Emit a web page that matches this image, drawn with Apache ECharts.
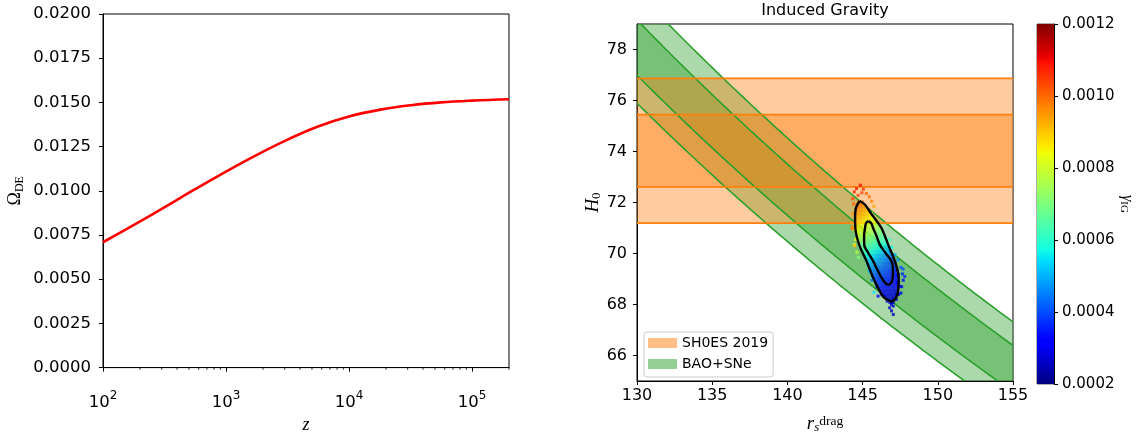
<!DOCTYPE html>
<html>
<head>
<meta charset="utf-8">
<script src="https://cdn.jsdelivr.net/npm/echarts@6/dist/echarts.min.js"></script>
<style>
html, body { margin: 0; padding: 0; background: #fff; }
#chart { width: 1142px; height: 439px; }
</style>
</head>
<body>
<div id="chart"></div>
<script>
// ---------- Left panel: Omega_DE(z) ----------
const zValues = [100, 180, 320, 560, 1000, 1800, 3200, 5600, 10000, 18000, 32000, 56000, 100000, 200000];
const omegaDE = [0.00709, 0.00809, 0.00909, 0.01009, 0.01109, 0.01205, 0.01291, 0.01364,
  0.01420, 0.01459, 0.01484, 0.01500, 0.01510, 0.01518];
const zMinorTicks = [200, 300, 400, 500, 600, 700, 800, 900,
  2000, 3000, 4000, 5000, 6000, 7000, 8000, 9000,
  20000, 30000, 40000, 50000, 60000, 70000, 80000, 90000, 200000];

// ---------- Right panel: r_s^drag vs H0 ----------
const shoesH0 = [71.19, 72.61, 75.45, 76.87];          // 2σ low, 1σ low, 1σ high, 2σ high
const baoProduct = [9866, 10009, 10291, 10434];        // H0 * r_s bounds (same order)
const h0Ticks = [66, 68, 70, 72, 74, 76, 78];

// MCMC samples: [r_s, H0, gamma_IG]
const chainCore = [
  [144.75, 72.00, 0.00101], [144.95, 72.00, 0.00099],
  [144.65, 71.85, 0.00099], [144.90, 71.85, 0.00097], [145.10, 71.85, 0.00095],
  [144.60, 71.70, 0.00097], [144.85, 71.70, 0.00095], [145.10, 71.70, 0.00093], [145.30, 71.70, 0.00091],
  [144.60, 71.55, 0.00095], [144.85, 71.55, 0.00093], [145.10, 71.55, 0.00091], [145.35, 71.55, 0.00089], [145.55, 71.55, 0.00087],
  [144.55, 71.40, 0.00093], [144.80, 71.40, 0.00091], [145.05, 71.40, 0.00089], [145.30, 71.40, 0.00087], [145.55, 71.40, 0.00085], [145.72, 71.40, 0.00083],
  [144.60, 71.25, 0.00090], [144.85, 71.25, 0.00088], [145.10, 71.25, 0.00086], [145.35, 71.25, 0.00084], [145.60, 71.25, 0.00082], [145.85, 71.25, 0.00080],
  [144.55, 71.10, 0.00088], [144.80, 71.10, 0.00086], [145.05, 71.10, 0.00084], [145.30, 71.10, 0.00082], [145.55, 71.10, 0.00080], [145.80, 71.10, 0.00078], [146.05, 71.10, 0.00076],
  [144.60, 70.95, 0.00085], [144.85, 70.95, 0.00083], [145.10, 70.95, 0.00081], [145.35, 70.95, 0.00079], [145.60, 70.95, 0.00077], [145.85, 70.95, 0.00075], [146.10, 70.95, 0.00073], [146.25, 70.95, 0.00071],
  [144.62, 70.80, 0.00082], [144.85, 70.80, 0.00080], [145.10, 70.80, 0.00078], [145.35, 70.80, 0.00076], [145.60, 70.80, 0.00074], [145.85, 70.80, 0.00072], [146.10, 70.80, 0.00070], [146.33, 70.80, 0.00068],
  [144.70, 70.65, 0.00078], [144.95, 70.65, 0.00076], [145.20, 70.65, 0.00074], [145.45, 70.65, 0.00072], [145.70, 70.65, 0.00070], [145.95, 70.65, 0.00068], [146.20, 70.65, 0.00066], [146.45, 70.65, 0.00064],
  [144.75, 70.50, 0.00074], [145.00, 70.50, 0.00072], [145.25, 70.50, 0.00070], [145.50, 70.50, 0.00068], [145.75, 70.50, 0.00066], [146.00, 70.50, 0.00064], [146.25, 70.50, 0.00062], [146.55, 70.50, 0.00060],
  [144.82, 70.35, 0.00070], [145.07, 70.35, 0.00068], [145.32, 70.35, 0.00066], [145.57, 70.35, 0.00064], [145.82, 70.35, 0.00062], [146.07, 70.35, 0.00060], [146.32, 70.35, 0.00058], [146.60, 70.35, 0.00056],
  [144.92, 70.20, 0.00066], [145.17, 70.20, 0.00064], [145.42, 70.20, 0.00062], [145.67, 70.20, 0.00060], [145.92, 70.20, 0.00058], [146.17, 70.20, 0.00056], [146.42, 70.20, 0.00054], [146.70, 70.20, 0.00052],
  [145.05, 70.05, 0.00062], [145.30, 70.05, 0.00060], [145.55, 70.05, 0.00058], [145.80, 70.05, 0.00056], [146.05, 70.05, 0.00054], [146.30, 70.05, 0.00052], [146.55, 70.05, 0.00050], [146.82, 70.05, 0.00048],
  [145.15, 69.90, 0.00058], [145.40, 69.90, 0.00056], [145.65, 69.90, 0.00054], [145.90, 69.90, 0.00052], [146.15, 69.90, 0.00050], [146.40, 69.90, 0.00048], [146.65, 69.90, 0.00046], [146.92, 69.90, 0.00044],
  [145.27, 69.75, 0.00054], [145.52, 69.75, 0.00052], [145.77, 69.75, 0.00050], [146.02, 69.75, 0.00049], [146.27, 69.75, 0.00047], [146.52, 69.75, 0.00045], [146.77, 69.75, 0.00043], [147.02, 69.75, 0.00041],
  [145.37, 69.60, 0.00051], [145.62, 69.60, 0.00049], [145.87, 69.60, 0.00047], [146.12, 69.60, 0.00046], [146.37, 69.60, 0.00044], [146.62, 69.60, 0.00042], [146.87, 69.60, 0.00040], [147.12, 69.60, 0.00039],
  [145.47, 69.45, 0.00048], [145.72, 69.45, 0.00046], [145.97, 69.45, 0.00044], [146.22, 69.45, 0.00043], [146.47, 69.45, 0.00041], [146.72, 69.45, 0.00040], [146.97, 69.45, 0.00038], [147.20, 69.45, 0.00037],
  [145.57, 69.30, 0.00045], [145.82, 69.30, 0.00043], [146.07, 69.30, 0.00041], [146.32, 69.30, 0.00040], [146.57, 69.30, 0.00039], [146.82, 69.30, 0.00037], [147.07, 69.30, 0.00036], [147.28, 69.30, 0.00035],
  [145.68, 69.15, 0.00042], [145.93, 69.15, 0.00040], [146.18, 69.15, 0.00039], [146.43, 69.15, 0.00038], [146.68, 69.15, 0.00037], [146.93, 69.15, 0.00035], [147.18, 69.15, 0.00034], [147.33, 69.15, 0.00033],
  [145.80, 69.00, 0.00039], [146.05, 69.00, 0.00038], [146.30, 69.00, 0.00037], [146.55, 69.00, 0.00036], [146.80, 69.00, 0.00035], [147.05, 69.00, 0.00033], [147.30, 69.00, 0.00032],
  [145.92, 68.85, 0.00037], [146.17, 68.85, 0.00036], [146.42, 68.85, 0.00035], [146.67, 68.85, 0.00034], [146.92, 68.85, 0.00033], [147.17, 68.85, 0.00032], [147.35, 68.85, 0.00031],
  [146.05, 68.70, 0.00035], [146.30, 68.70, 0.00034], [146.55, 68.70, 0.00033], [146.80, 68.70, 0.00032], [147.05, 68.70, 0.00031], [147.30, 68.70, 0.00030],
  [146.20, 68.55, 0.00032], [146.45, 68.55, 0.00031], [146.70, 68.55, 0.00030], [146.95, 68.55, 0.00029], [147.20, 68.55, 0.00028],
  [146.32, 68.40, 0.00030], [146.57, 68.40, 0.00029], [146.82, 68.40, 0.00029], [147.07, 68.40, 0.00028], [147.27, 68.40, 0.00027],
  [146.65, 68.25, 0.00028], [146.90, 68.25, 0.00027], [147.10, 68.25, 0.00026],
  [146.85, 68.10, 0.00026], [147.00, 68.10, 0.00025]
];
const chainTail = [
  [144.85, 72.68, 0.00110], [144.60, 72.55, 0.00108], [145.05, 72.52, 0.00106], [144.45, 72.42, 0.00107],
  [144.95, 72.38, 0.00104], [145.25, 72.35, 0.00101], [144.70, 72.28, 0.00104], [145.45, 72.22, 0.00099],
  [144.35, 72.15, 0.00104], [145.60, 72.05, 0.00097], [144.40, 71.95, 0.00101], [145.75, 71.85, 0.00093],
  [144.35, 71.55, 0.00096], [144.28, 71.20, 0.00094], [144.38, 70.95, 0.00090], [144.30, 71.05, 0.00097],
  [144.55, 70.55, 0.00085], [144.45, 70.35, 0.00083], [144.62, 70.05, 0.00078], [144.72, 69.85, 0.00070],
  [144.47, 70.30, 0.00092], [144.31, 70.98, 0.00098],
  [146.80, 70.55, 0.00062], [146.95, 70.25, 0.00057], [147.15, 69.95, 0.00050], [147.35, 69.75, 0.00046],
  [147.55, 69.45, 0.00040], [147.65, 69.20, 0.00036], [147.70, 68.95, 0.00033], [147.60, 68.70, 0.00031],
  [147.55, 68.45, 0.00029], [147.69, 69.39, 0.00040], [147.80, 69.10, 0.00036], [147.47, 68.71, 0.00031],
  [147.40, 68.40, 0.00029], [147.24, 68.20, 0.00028], [146.91, 68.00, 0.00026], [146.64, 68.13, 0.00028],
  [146.80, 67.87, 0.00026], [147.04, 67.94, 0.00026], [147.04, 67.61, 0.00025], [146.92, 67.75, 0.00025],
  [146.44, 68.33, 0.00030], [145.76, 68.48, 0.00055], [146.03, 68.33, 0.00031], [145.95, 68.70, 0.00034],
  [145.62, 68.95, 0.00045], [145.45, 69.30, 0.00050]
];

// Credible-region contours (closed curves)
const contour95 = [
  [144.80, 72.06], [145.15, 71.92], [145.49, 71.63], [145.90, 71.30], [146.27, 70.98],
  [146.71, 70.33], [147.15, 69.69], [147.40, 69.04], [147.38, 68.62], [147.25, 68.30],
  [146.93, 68.13], [146.55, 68.22], [146.27, 68.39], [145.71, 69.04], [145.27, 69.69],
  [144.78, 70.33], [144.52, 70.98], [144.50, 71.40], [144.56, 71.80], [144.80, 72.06]
];
const contour68 = [
  [145.38, 71.27], [145.58, 71.18], [145.71, 70.98], [145.95, 70.65], [146.16, 70.33],
  [146.55, 70.00], [146.93, 69.69], [147.02, 69.35], [147.00, 69.04], [146.90, 68.85],
  [146.71, 68.78], [146.50, 68.85], [146.27, 69.04], [145.95, 69.40], [145.71, 69.69],
  [145.35, 70.05], [145.11, 70.33], [145.10, 70.70], [145.16, 70.98], [145.22, 71.18],
  [145.38, 71.27]
];

// Colour bar range
const gammaMin = 0.0002, gammaMax = 0.0012, gammaStep = 0.0002;

// Jet colour map (piecewise-linear stops)
const jetStops = [
  [0.00, [0, 0, 128]], [0.11, [0, 0, 255]], [0.125, [0, 0, 255]], [0.34, [0, 219, 255]],
  [0.35, [0, 230, 247]], [0.375, [21, 255, 226]], [0.64, [239, 255, 8]], [0.65, [247, 245, 0]],
  [0.66, [255, 236, 0]], [0.89, [255, 19, 0]], [0.91, [232, 0, 0]], [1.00, [128, 0, 0]]
];
function rgb(c) { return 'rgb(' + c.map(Math.round).join(',') + ')'; }
function jet(t) {
  for (let i = 1; i < jetStops.length; i++) {
    const [o1, c1] = jetStops[i - 1], [o2, c2] = jetStops[i];
    if (t <= o2) {
      const f = (t - o1) / (o2 - o1 || 1);
      return rgb(c1.map((v, k) => v + (c2[k] - v) * f));
    }
  }
  return rgb(jetStops[jetStops.length - 1][1]);
}
const jetPalette = [];
for (let i = 0; i <= 40; i++) jetPalette.push(jet(i / 40));

const SANS = 'DejaVu Sans';
const SERIF = 'Liberation Serif';
const GREEN = '#2ca02c', ORANGE = '#ff7f0e';

const chart = echarts.init(document.getElementById('chart'));

function axisBasics(fontSize, margin, decimals) {
  const label = { color: '#000', fontFamily: SANS, fontSize: fontSize, margin: margin };
  if (decimals !== undefined) label.formatter = v => Number(v).toFixed(decimals);
  return {
    axisLine: { show: true, onZero: false, lineStyle: { color: '#000', width: 1 } },
    axisTick: { show: true, inside: false, length: 4, lineStyle: { color: '#000', width: 1 } },
    axisLabel: label,
    splitLine: { show: false }
  };
}

function horizontalBand(params, api) {
  const cs = params.coordSys;
  const yLo = api.coord([130, api.value(0)])[1];
  const yHi = api.coord([130, api.value(1)])[1];
  return {
    type: 'polygon',
    shape: { points: [[cs.x, yLo], [cs.x + cs.width, yLo], [cs.x + cs.width, yHi], [cs.x, yHi]] },
    style: { fill: 'rgba(255,127,14,0.4)' }
  };
}
function productCurve(api, c) {
  const pts = [];
  for (let rs = 124; rs <= 161; rs += 0.25) pts.push(api.coord([rs, c / rs]));
  return pts;
}
function productBand(params, api) {
  const lower = productCurve(api, api.value(0));
  const upper = productCurve(api, api.value(1)).reverse();
  return {
    type: 'polygon',
    shape: { points: lower.concat(upper) },
    style: { fill: 'rgba(44,160,44,0.4)' }
  };
}

const option = {
  animation: false,
  backgroundColor: '#fff',
  textStyle: { fontFamily: SANS },
  grid: [
    { left: 103, top: 14, width: 406, height: 358, show: true, borderColor: '#000', borderWidth: 1, backgroundColor: 'transparent' },
    { left: 637, top: 24, width: 376, height: 360, show: true, borderColor: '#000', borderWidth: 1, backgroundColor: 'transparent' },
    { left: 1037, top: 24, width: 17, height: 360, show: true, borderColor: '#333', borderWidth: 0.8, backgroundColor: 'transparent' }
  ],
  xAxis: [
    Object.assign(axisBasics(16.5, 23), {
      gridIndex: 0, type: 'log', logBase: 10, min: 100, max: 200000,
      name: 'z', nameLocation: 'middle', nameGap: 41,
      nameTextStyle: { fontFamily: SERIF, fontStyle: 'italic', fontSize: 18, color: '#000' },
      axisLabel: {
        color: '#000', fontFamily: SANS, margin: 22, showMaxLabel: false,
        formatter: v => '{b|10}{e|' + Math.round(Math.log10(v)) + '}',
        rich: {
          b: { fontFamily: SANS, fontSize: 16.5, lineHeight: 26, color: '#000' },
          e: { fontFamily: SANS, fontSize: 12, lineHeight: 12, verticalAlign: 'top', color: '#000' }
        }
      }
    }),
    Object.assign(axisBasics(16, 7), {
      gridIndex: 1, type: 'value', min: 130, max: 155, interval: 5,
      name: '{r|r}{s|s}{d|drag}', nameLocation: 'middle', nameGap: 33,
      nameTextStyle: {
        color: '#000',
        rich: {
          r: { fontFamily: SERIF, fontStyle: 'italic', fontSize: 19, lineHeight: 20, color: '#000' },
          s: { fontFamily: SERIF, fontStyle: 'italic', fontSize: 13, lineHeight: 8, verticalAlign: 'bottom', color: '#000' },
          d: { fontFamily: SERIF, fontSize: 13.5, lineHeight: 12, verticalAlign: 'top', color: '#000' }
        }
      }
    }),
    { gridIndex: 2, type: 'value', min: 0, max: 1, show: false }
  ],
  yAxis: [
    Object.assign(axisBasics(16.5, 12, 4), {
      gridIndex: 0, type: 'value', min: 0, max: 0.02, interval: 0.0025,
      name: '{o|Ω}{s|DE}', nameLocation: 'middle', nameRotate: 90, nameGap: 77,
      nameTextStyle: {
        color: '#000',
        rich: {
          o: { fontFamily: SERIF, fontSize: 18, lineHeight: 22, color: '#000' },
          s: { fontFamily: SERIF, fontSize: 12, lineHeight: 12, verticalAlign: 'bottom', color: '#000' }
        }
      }
    }),
    Object.assign(axisBasics(16, 10), {
      gridIndex: 1, type: 'value', min: 65, max: 79,
      name: '{h|H}{z|0}', nameLocation: 'middle', nameRotate: 90, nameGap: 30,
      nameTextStyle: {
        color: '#000',
        rich: {
          h: { fontFamily: SERIF, fontStyle: 'italic', fontSize: 19, lineHeight: 20, color: '#000' },
          z: { fontFamily: SERIF, fontSize: 13, lineHeight: 10, verticalAlign: 'bottom', color: '#000' }
        }
      }
    }),
    Object.assign(axisBasics(15, 8, 4), {
      gridIndex: 2, type: 'value', position: 'right', min: gammaMin, max: gammaMax, interval: gammaStep,
      name: '{g|γ}{s|IG}', nameLocation: 'middle', nameRotate: -90, nameGap: 58,
      nameTextStyle: {
        color: '#000',
        rich: {
          g: { fontFamily: SERIF, fontStyle: 'italic', fontSize: 16, lineHeight: 18, color: '#000' },
          s: { fontFamily: SERIF, fontSize: 11, lineHeight: 10, verticalAlign: 'bottom', color: '#000' }
        }
      }
    })
  ],
  visualMap: {
    type: 'continuous', show: false, seriesIndex: [6, 7], dimension: 2,
    min: gammaMin, max: gammaMax, inRange: { color: jetPalette }
  },
  legend: {
    left: 644, top: 332, orient: 'vertical',
    padding: [3, 5, 5, 4], itemGap: 5, itemWidth: 29, itemHeight: 10,
    icon: 'rect', selectedMode: false,
    backgroundColor: 'rgba(255,255,255,0.8)', borderColor: '#cccccc', borderWidth: 1, borderRadius: 3,
    textStyle: { fontFamily: SANS, fontSize: 14, color: '#000', lineHeight: 16 },
    data: [
      { name: 'SH0ES 2019', itemStyle: { color: 'rgba(255,127,14,0.5)' } },
      { name: 'BAO+SNe', itemStyle: { color: 'rgba(44,160,44,0.5)' } }
    ]
  },
  graphic: [{
    type: 'text', x: 825, y: 11,
    style: { text: 'Induced Gravity', fontFamily: SANS, fontSize: 16, fill: '#000', align: 'center', verticalAlign: 'middle' }
  }],
  series: [
    { // 0
      type: 'line', xAxisIndex: 0, yAxisIndex: 0, smooth: 0.4, symbol: 'none',
      data: zValues.map((z, i) => [z, omegaDE[i]]),
      lineStyle: { color: '#ff0000', width: 2.6 }
    },
    { // 1: minor ticks on the log axis
      type: 'custom', xAxisIndex: 0, yAxisIndex: 0, silent: true,
      data: zMinorTicks.map(v => [v, 0]),
      renderItem: (params, api) => {
        const p = api.coord([api.value(0), 0]);
        return { type: 'line', shape: { x1: p[0], y1: p[1], x2: p[0], y2: p[1] + 2.2 }, style: { stroke: '#000', lineWidth: 0.8 } };
      }
    },
    { // 2
      type: 'custom', name: 'BAO+SNe', xAxisIndex: 1, yAxisIndex: 1, clip: true, silent: true,
      itemStyle: { color: 'rgba(44,160,44,0.5)' },
      data: [[baoProduct[0], baoProduct[3]], [baoProduct[1], baoProduct[2]]],
      renderItem: productBand
    },
    { // 3
      type: 'custom', name: 'SH0ES 2019', xAxisIndex: 1, yAxisIndex: 1, clip: true, silent: true,
      itemStyle: { color: 'rgba(255,127,14,0.5)' },
      data: [[shoesH0[0], shoesH0[3]], [shoesH0[1], shoesH0[2]]],
      renderItem: horizontalBand
    },
    { // 4: BAO band edges
      type: 'custom', xAxisIndex: 1, yAxisIndex: 1, clip: true, silent: true,
      data: baoProduct.map(c => [c]),
      renderItem: (params, api) => ({
        type: 'polyline', shape: { points: productCurve(api, api.value(0)) },
        style: { stroke: GREEN, lineWidth: 1.6, fill: null }
      })
    },
    { // 5: SH0ES band edges
      type: 'custom', xAxisIndex: 1, yAxisIndex: 1, clip: true, silent: true,
      data: shoesH0.map(h => [h]),
      renderItem: (params, api) => {
        const cs = params.coordSys;
        const y = api.coord([130, api.value(0)])[1];
        return { type: 'line', shape: { x1: cs.x, y1: y, x2: cs.x + cs.width, y2: y }, style: { stroke: ORANGE, lineWidth: 1.8 } };
      }
    },
    { // 6
      type: 'scatter', xAxisIndex: 1, yAxisIndex: 1, symbol: 'rect', symbolSize: 4, silent: true,
      data: chainCore
    },
    { // 7
      type: 'scatter', xAxisIndex: 1, yAxisIndex: 1, symbol: 'rect', symbolSize: 3, silent: true,
      data: chainTail
    },
    { // 8
      type: 'line', xAxisIndex: 1, yAxisIndex: 1, symbol: 'none', smooth: 0.35, silent: true,
      data: contour95, lineStyle: { color: '#000', width: 2.4 }
    },
    { // 9
      type: 'line', xAxisIndex: 1, yAxisIndex: 1, symbol: 'none', smooth: 0.35, silent: true,
      data: contour68, lineStyle: { color: '#000', width: 2.4 }
    },
    { // 10: colour bar
      type: 'custom', xAxisIndex: 2, yAxisIndex: 2, silent: true,
      data: [[0, gammaMin, 1, gammaMax]],
      renderItem: (params, api) => {
        const p0 = api.coord([api.value(0), api.value(3)]);
        const p1 = api.coord([api.value(2), api.value(1)]);
        return {
          type: 'rect',
          shape: { x: p0[0], y: p0[1], width: p1[0] - p0[0], height: p1[1] - p0[1] },
          style: {
            fill: {
              type: 'linear', x: 0, y: 1, x2: 0, y2: 0,
              colorStops: jetStops.map(s => ({ offset: s[0], color: rgb(s[1]) }))
            }
          }
        };
      }
    }
  ]
};

// H0 ticks at even values only
option.yAxis[1].axisLabel.customValues = h0Ticks;
option.yAxis[1].axisTick.customValues = h0Ticks;

chart.setOption(option);
</script>
</body>
</html>
